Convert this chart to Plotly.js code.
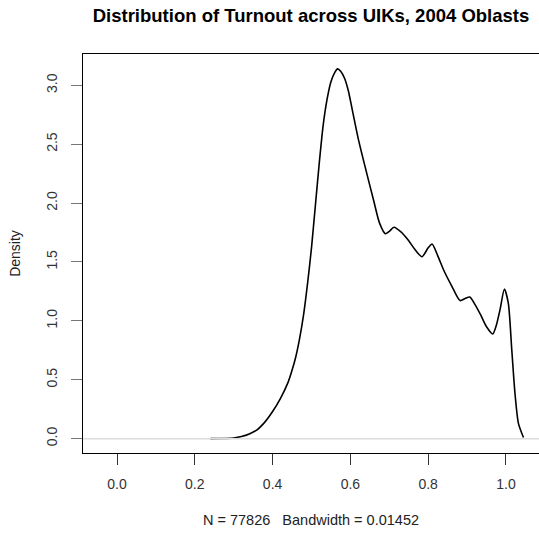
<!DOCTYPE html>
<html>
<head>
<meta charset="utf-8">
<script src="https://cdn.plot.ly/plotly-3.0.1.min.js"></script>
<style>html,body{margin:0;padding:0;background:#fff;}#chart{width:539px;height:537px;}</style>
</head>
<body>
<div id="chart"></div>
<script>
// Kernel density estimate of turnout
const turnout = [0.24, 0.27, 0.30, 0.32, 0.34, 0.36, 0.38, 0.40, 0.42, 0.44, 0.45, 0.46, 0.47, 0.48, 0.49, 0.50, 0.51, 0.52, 0.53, 0.54, 0.55, 0.56, 0.567, 0.575, 0.585, 0.595, 0.605, 0.62, 0.64, 0.66, 0.675, 0.69, 0.70, 0.712, 0.73, 0.75, 0.765, 0.784, 0.80, 0.81, 0.825, 0.84, 0.86, 0.882, 0.895, 0.907, 0.92, 0.935, 0.95, 0.966, 0.975, 0.985, 0.996, 1.006, 1.015, 1.023, 1.032, 1.045];
const density = [0.0, 0.001, 0.006, 0.018, 0.04, 0.075, 0.14, 0.23, 0.34, 0.48, 0.58, 0.70, 0.86, 1.06, 1.32, 1.62, 1.98, 2.34, 2.66, 2.88, 3.03, 3.11, 3.14, 3.12, 3.06, 2.95, 2.79, 2.55, 2.28, 2.02, 1.83, 1.74, 1.76, 1.795, 1.755, 1.68, 1.61, 1.545, 1.62, 1.653, 1.55, 1.43, 1.30, 1.172, 1.19, 1.203, 1.14, 1.05, 0.95, 0.889, 0.96, 1.10, 1.271, 1.15, 0.75, 0.39, 0.13, 0.01];
const xTicks = [0, 0.2, 0.4, 0.6, 0.8, 1.0];
const xTickText = ["0.0", "0.2", "0.4", "0.6", "0.8", "1.0"];
const yTicks = [0, 0.5, 1.0, 1.5, 2.0, 2.5, 3.0];
const yTickText = ["0.0", "0.5", "1.0", "1.5", "2.0", "2.5", "3.0"];
const titleText = "Distribution of Turnout across UIKs, 2004 Oblasts";
const xTitleText = "N = 77826\u00a0\u00a0\u00a0Bandwidth = 0.01452";
const yTitleText = "Density";

const FONT = "Liberation Sans, Arial, Helvetica, sans-serif";

const trace = {
  x: turnout, y: density, type: 'scatter', mode: 'lines',
  line: {color: '#000', width: 1.6, shape: 'spline', smoothing: 0.7},
  hoverinfo: 'skip', showlegend: false
};

const layout = {
  width: 539, height: 537,
  margin: {l: 83, r: 0, t: 54, b: 84, pad: 0},
  paper_bgcolor: '#fff', plot_bgcolor: '#fff',
  font: {family: FONT, color: '#222', size: 13},
  title: {
    text: '<b>' + titleText + '</b>',
    font: {family: FONT, size: 18.5, color: '#000'},
    xref: 'paper', x: 0.5, xanchor: 'center',
    yref: 'container', y: 1 - 16 / 537, yanchor: 'middle'
  },
  xaxis: {
    range: [-0.0874, 1.0849],
    tickvals: xTicks, ticktext: xTickText,
    ticks: 'outside', ticklen: 11, tickwidth: 1, tickcolor: '#333',
    ticklabelstandoff: 7,
    tickfont: {family: FONT, size: 14, color: '#333'},
    showgrid: false, zeroline: false,
    showline: true, mirror: true, linecolor: '#000', linewidth: 1,
    title: {text: xTitleText, font: {family: FONT, size: 14.5, color: '#222'}, standoff: 24},
    fixedrange: true
  },
  yaxis: {
    range: [-0.122, 3.266],
    tickvals: yTicks, ticktext: yTickText,
    ticks: 'outside', ticklen: 11, tickwidth: 1, tickcolor: '#777',
    tickangle: -90,
    ticklabelstandoff: 8,
    tickfont: {family: FONT, size: 14, color: '#333'},
    showgrid: false, zeroline: false,
    showline: true, mirror: false, linecolor: '#000', linewidth: 1,
    title: {text: yTitleText, font: {family: FONT, size: 14, color: '#222'}, standoff: 20},
    fixedrange: true
  },
  shapes: [{
    type: 'line', xref: 'paper', x0: 0, x1: 1, yref: 'y', y0: 0, y1: 0,
    line: {color: '#dcdcdc', width: 1.5}, layer: 'above'
  }]
};

Plotly.newPlot('chart', [trace], layout, {displayModeBar: false, staticPlot: true});
</script>
</body>
</html>
